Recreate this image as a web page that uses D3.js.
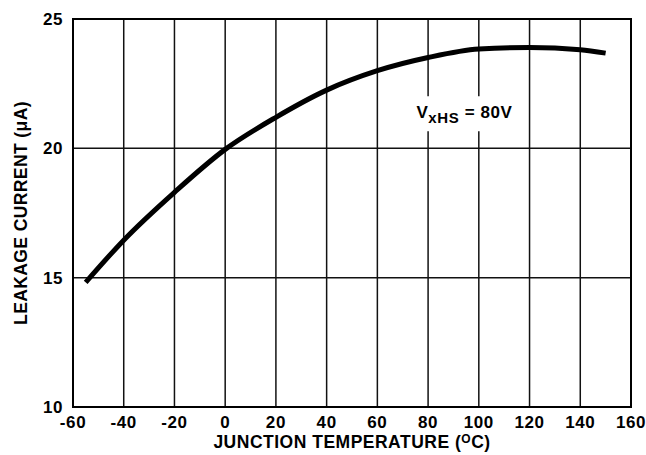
<!DOCTYPE html>
<html>
<head>
<meta charset="utf-8">
<script src="https://cdn.jsdelivr.net/npm/d3@7"></script>
<style>
  body { margin: 0; background: #fff; }
  text { font-family: "Liberation Sans", Arial, sans-serif; font-weight: bold; fill: #000; }
</style>
</head>
<body>
<div id="chart"></div>
<script>
"use strict";

// values
var temps    = [-55, -40, -20, 0, 20, 40, 60, 80, 100, 120, 140, 150];
var currents = [14.82, 16.45, 18.3, 19.96, 21.2, 22.25, 23.0, 23.51, 23.84, 23.9, 23.81, 23.68];
var xTicks = [-60, -40, -20, 0, 20, 40, 60, 80, 100, 120, 140, 160];
var yTicks = [10, 15, 20, 25];

var margin = {top: 19, right: 15, bottom: 48, left: 73};
var W = 646, H = 455;
var w = W - margin.left - margin.right;
var h = H - margin.top - margin.bottom;

var svg = d3.select("#chart").append("svg")
    .attr("width", W)
    .attr("height", H);
var g = svg.append("g")
    .attr("transform", "translate(" + margin.left + "," + margin.top + ")");

var x = d3.scaleLinear().domain([-60, 160]).range([0, w]);
var y = d3.scaleLinear().domain([10, 25]).range([h, 0]);

//grid lines
g.selectAll(".vgrid")
    .data(xTicks)
    .enter().append("line")
    .attr("x1", function(d) { return x(d); })
    .attr("x2", function(d) { return x(d); })
    .attr("y1", 0).attr("y2", h)
    .attr("stroke", "#111").attr("stroke-width", 1.5);

g.selectAll(".hgrid")
    .data(yTicks)
    .enter().append("line")
    .attr("x1", 0).attr("x2", w)
    .attr("y1", function(d) { return y(d); })
    .attr("y2", function(d) { return y(d); })
    .attr("stroke", "#111").attr("stroke-width", 1.5);

//frame
g.append("rect")
    .attr("width", w).attr("height", h)
    .attr("fill", "none")
    .attr("stroke", "#000").attr("stroke-width", 2);

//tick labels
g.selectAll(".xlab")
    .data(xTicks)
    .enter().append("text")
    .attr("x", function(d) { return x(d); })
    .attr("y", h + 21)
    .attr("text-anchor", "middle")
    .style("font-size", "17px")
    .style("letter-spacing", "0.6px")
    .text(function(d) { return d; });

g.selectAll(".ylab")
    .data(yTicks)
    .enter().append("text")
    .attr("x", -10)
    .attr("y", function(d) { return y(d) + 6; })
    .attr("text-anchor", "end")
    .style("font-size", "17px")
    .style("letter-spacing", "0.6px")
    .text(function(d) { return d; });

//annotation with white box over the grid
var note = g.append("g").attr("transform", "translate(" + (x(90) + 11) + "," + (y(21.55) + 6) + ")");
note.append("rect")
    .attr("x", -55).attr("y", -18)
    .attr("width", 110).attr("height", 35)
    .attr("fill", "#fff");
var nt = note.append("text")
    .attr("text-anchor", "middle")
    .attr("x", 0)
    .attr("y", 4)
    .style("font-size", "17px")
    .style("letter-spacing", "0.6px");
nt.append("tspan").text("V");
nt.append("tspan").attr("dy", 5).style("font-size", "15px").text("xHS");
nt.append("tspan").attr("dy", -5).text(" = 80V");

//curve
var line = d3.line()
    .x(function(d, i) { return x(temps[i]); })
    .y(function(d) { return y(d); })
    .curve(d3.curveMonotoneX);

g.append("path")
    .datum(currents)
    .attr("d", line)
    .attr("fill", "none")
    .attr("stroke", "#000")
    .attr("stroke-width", 5);

//axis titles
var xt = svg.append("text")
    .attr("x", 352)
    .attr("y", 448)
    .attr("text-anchor", "middle")
    .style("font-size", "17.5px")
    .style("letter-spacing", "0.5px");
xt.append("tspan").text("JUNCTION TEMPERATURE (");
xt.append("tspan").attr("dy", -5).style("font-size", "12px").text("O");
xt.append("tspan").attr("dy", 5).text("C)");

svg.append("text")
    .attr("transform", "translate(27," + 213 + ") rotate(-90)")
    .attr("text-anchor", "middle")
    .style("font-size", "17.5px")
    .style("letter-spacing", "0.4px")
    .text("LEAKAGE CURRENT (\u03bcA)");
</script>
</body>
</html>
